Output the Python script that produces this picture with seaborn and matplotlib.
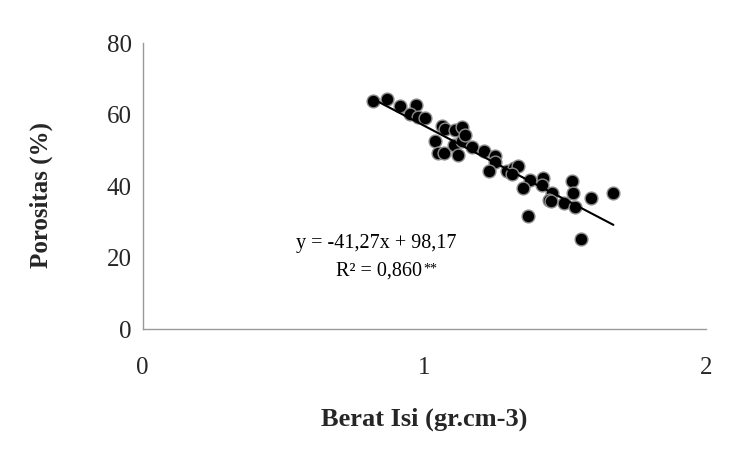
import numpy as np
import pandas as pd
import matplotlib
matplotlib.use("Agg")
import matplotlib.pyplot as plt
import seaborn as sns

# Data
berat_isi = [0.819, 0.869, 0.912, 0.971, 0.950, 0.979, 1.003, 1.064, 1.074, 1.109,
             1.133, 1.038, 1.050, 1.068, 1.106, 1.121, 1.133, 1.145, 1.169, 1.210,
             1.249, 1.249, 1.228, 1.294, 1.317, 1.334, 1.311, 1.376, 1.421, 1.418,
             1.350, 1.453, 1.441, 1.450, 1.494, 1.524, 1.529, 1.536, 1.367, 1.591,
             1.671, 1.557]
porositas = [63.75, 64.5, 62.35, 62.6, 60.2, 59.5, 59.1, 56.75, 56.0, 55.8,
             56.7, 52.55, 49.3, 49.4, 51.5, 48.8, 52.55, 54.4, 51.0, 50.0,
             48.35, 46.9, 44.15, 44.15, 45.1, 45.55, 43.5, 41.8, 42.3, 40.4,
             39.5, 38.1, 36.2, 35.75, 35.3, 41.35, 38.0, 34.1, 31.7, 36.8,
             38.25, 25.2]
slope = -41.27
intercept = 98.17
eq_text = "y = -41,27x + 98,17"
r2_text = "R² = 0,860"
sig_text = "**"
x_ticks = [0, 1, 2]
y_ticks = [0, 20, 40, 60, 80]

df = pd.DataFrame({"x": berat_isi, "y": porositas})

sns.set_style("white")
plt.rcParams["font.family"] = ["Liberation Serif", "DejaVu Serif"]

fig = plt.figure(figsize=(7.34, 4.62), dpi=100)
ax = fig.add_axes([0.1944, 0.2872, 0.7676, 0.6191])

sns.scatterplot(data=df, x="x", y="y", ax=ax, color="black", s=85,
                edgecolor="#8c8c8c", linewidth=1.0, zorder=3)

xl = np.array([df["x"].min(), df["x"].max()])
ax.plot(xl, slope * xl + intercept, color="black", lw=1.5, zorder=4)

ax.set_xlim(0, 2)
ax.set_ylim(0, 80)
ax.set_xticks(x_ticks)
ax.set_yticks(y_ticks)
ax.tick_params(axis="x", length=0, pad=20, labelsize=18)
ax.tick_params(axis="y", length=0, pad=8, labelsize=18)

for side in ["top", "right"]:
    ax.spines[side].set_visible(False)
for side in ["left", "bottom"]:
    ax.spines[side].set_color("#9a9a9a")
    ax.spines[side].set_linewidth(1.0)

ax.set_xlabel("Berat Isi (gr.cm-3)", fontsize=19, fontweight="bold")
ax.set_ylabel("Porositas (%)", fontsize=18, fontweight="bold")
ax.xaxis.set_label_coords(0.5, -0.275)
ax.yaxis.set_label_coords(-0.16, 0.47)

ax.text(0.829, 23.9, eq_text, fontsize=14.5, ha="center", va="center", color="black")
t = ax.text(0.84, 16.3, r2_text, fontsize=14.5, ha="center", va="center", color="black")
fig.canvas.draw()
bb = t.get_window_extent()
fig.text(bb.x1 / fig.dpi / fig.get_figwidth() + 0.001, bb.y1 / fig.dpi / fig.get_figheight() - 0.002,
         sig_text, fontsize=10, ha="left", va="top", color="black")

fig.savefig("out.png", dpi=100)
